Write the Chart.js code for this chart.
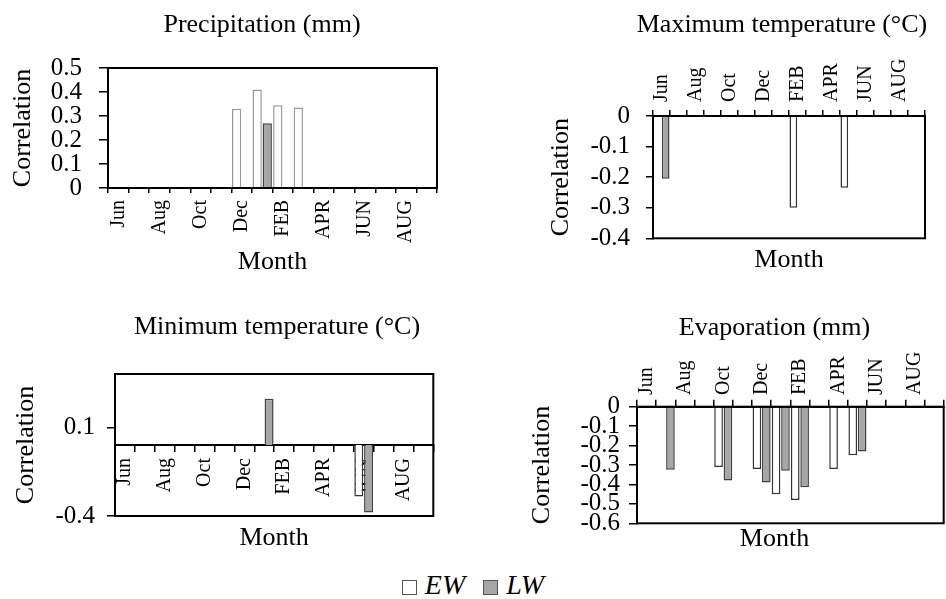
<!DOCTYPE html>
<html>
<head>
<meta charset="utf-8">
<title>Correlation by month</title>
<script src="https://cdn.jsdelivr.net/npm/chart.js@4.4.1/dist/chart.umd.min.js"></script>
<style>
  html, body { margin: 0; padding: 0; background: #fff; overflow: hidden; }
  #page { position: relative; width: 946px; height: 599px; overflow: hidden; }
  #page canvas { position: absolute; }
  #legend { position: absolute; left: 0; top: 570px; width: 946px; text-align: center;
            font: italic 28px 'Liberation Serif', serif; line-height: 30px; color: #000; }
  #legend .key { display: inline-block; width: 13px; height: 13px; border: 1px solid #555;
                 margin-right: 8px; vertical-align: -1px; }
  #legend .gap { display: inline-block; width: 18px; }
</style>
</head>
<body>
<div id="page">
  <canvas id="precip"></canvas>
  <canvas id="tmax"></canvas>
  <canvas id="tmin"></canvas>
  <canvas id="evap"></canvas>
  <div id="legend"></div>
</div>
<script>
// ---------------- data
var months = ['Jun', 'Jul', 'Aug', 'Sep', 'Oct', 'Nov', 'Dec', 'Jan',
              'FEB', 'MAR', 'APR', 'MAY', 'JUN', 'JUL', 'AUG', 'SEP'];
var monthTicks = ['Jun', '', 'Aug', '', 'Oct', '', 'Dec', '',
                  'FEB', '', 'APR', '', 'JUN', '', 'AUG', ''];
var seriesNames = ['EW', 'LW'];

var precipEW = [null, null, null, null, null, null, 0.33, 0.41, 0.345, 0.335, null, null, null, null, null, null];
var precipLW = [null, null, null, null, null, null, null, 0.27, null, null, null, null, null, null, null, null];
var precipTicks = [0, 0.1, 0.2, 0.3, 0.4, 0.5];
var precipRange = [0, 0.5];

var tmaxEW = [null, null, null, null, null, null, null, null, -0.30, null, null, -0.235, null, null, null, null];
var tmaxLW = [-0.205, null, null, null, null, null, null, null, null, null, null, null, null, null, null, null];
var tmaxTicks = [-0.4, -0.3, -0.2, -0.1, 0];
var tmaxRange = [-0.4, 0];

var tminEW = [null, null, null, null, null, null, null, null, null, null, null, null, -0.29, null, null, null];
var tminLW = [null, null, null, null, null, null, null, 0.26, null, null, null, null, -0.38, null, null, null];
var tminTicks = [-0.4, 0.1];
var tminRange = [-0.4, 0.4];

var evapEW = [null, null, null, null, -0.31, null, -0.32, -0.45, -0.48, null, -0.32, -0.25, null, null, null, null];
var evapLW = [null, -0.325, null, null, -0.38, null, -0.39, -0.33, -0.415, null, null, -0.23, null, null, null, null];
var evapTicks = [-0.6, -0.5, -0.4, -0.3, -0.2, -0.1, 0];
var evapRange = [-0.6, 0];

// ---------------- look
var FONT = "'Liberation Serif', 'Times New Roman', serif";
Chart.defaults.font.family = FONT;
Chart.defaults.color = '#000';

// frame round the plot area
var plotBox = {
    id: 'plotBox',
    afterDatasetsDraw: function (chart){
        var a = chart.chartArea, c = chart.ctx;
        c.save();
        c.strokeStyle = '#000';
        c.lineWidth = 2;
        c.strokeRect(a.left, a.top, a.right - a.left, a.bottom - a.top);
        c.restore();
    }
};

function makePanel(id, title, ew, lw, ewBorder, yTicks, yRange, g){
    var canvas = document.getElementById(id);
    canvas.width = g.w;
    canvas.height = g.h;
    canvas.style.left = g.left + 'px';
    canvas.style.top = g.top + 'px';

    var scales = {
        x: {
            position: g.xPos,
            z: g.xZ || 0,
            afterFit: function (s){ if (g.xHeight) { s.height = g.xHeight; } },
            ticks: {autoSkip: false, minRotation: 90, maxRotation: 90, padding: g.xTickPad,
                    labelOffset: g.xLabelOffset || 0,
                    font: {size: 20},
                    callback: function (v, i){ return monthTicks[i]; }},
            grid: {offset: true, drawOnChartArea: false, tickLength: g.xTickLen,
                   color: '#000', lineWidth: 1.5},
            border: {color: '#000', width: 2}
        },
        x2: {
            type: 'category',
            position: 'bottom',
            fullSize: !!g.monthFull,
            afterFit: function (s){ s.height = g.monthHeight; },
            ticks: {display: false},
            grid: {display: false},
            border: {display: false},
            title: {display: true, text: 'Month', font: {size: 26},
                    padding: {top: 0, bottom: g.monthPad}}
        },
        y: {
            min: yRange[0],
            max: yRange[1],
            afterBuildTicks: function (s){
                s.ticks = yTicks.map(function (v){ return {value: v}; });
            },
            afterFit: function (s){ s.width = g.yWidth; },
            ticks: {autoSkip: false, padding: g.yTickPad, font: {size: 25},
                    callback: function (v){ return String(v); }},
            grid: {drawOnChartArea: false, tickLength: g.yTickLen, color: '#000', lineWidth: 1.5},
            border: {color: '#000', width: 2},
            title: {display: true, text: 'Correlation', font: {size: 26},
                    padding: {top: g.yTitlePad, bottom: 0}}
        },
        // empty strip on the right so the panel title sits where it should
        side: {
            type: 'linear',
            position: 'right',
            afterFit: function (s){ s.width = g.rightWidth; },
            ticks: {display: false},
            grid: {display: false},
            border: {display: false}
        }
    };

    return new Chart(canvas, {
        type: 'bar',
        data: {
            labels: months,
            datasets: [
                {label: seriesNames[0], data: ew, backgroundColor: '#ffffff', borderColor: ewBorder,
                 borderWidth: 1.5, categoryPercentage: 0.98, barPercentage: 0.92},
                {label: seriesNames[1], data: lw, backgroundColor: '#a6a6a6', borderColor: '#404040',
                 borderWidth: 1.5, categoryPercentage: 0.98, barPercentage: 0.92}
            ]
        },
        options: {
            responsive: false,
            animation: false,
            devicePixelRatio: 1,
            layout: {padding: 0},
            plugins: {
                legend: {display: false},
                tooltip: {enabled: false},
                title: {display: true, text: title, font: {size: 26, weight: 'normal'},
                        padding: {top: g.tPadTop, bottom: g.tPadBottom}}
            },
            scales: scales
        },
        plugins: [plotBox]
    });
}

// ---------------- the four panels
makePanel('precip', 'Precipitation (mm)', precipEW, precipLW, '#9a9a9a', precipTicks, precipRange, {
    left: 0, top: 0, w: 524, h: 290,
    tPadTop: 9.4, tPadBottom: 27.4,
    xPos: 'bottom', xHeight: 62, xTickLen: 5, xTickPad: 7,
    monthHeight: 40, monthPad: 12.4,
    yWidth: 108, yTitlePad: 7.4, yTickLen: 9, yTickPad: 17,
    rightWidth: 87
});

makePanel('tmax', 'Maximum temperature (°C)', tmaxEW, tmaxLW, '#333333', tmaxTicks, tmaxRange, {
    left: 540, top: 0, w: 484, h: 290,
    tPadTop: 9.4, tPadBottom: 10,
    xPos: 'top', xHeight: 65.4, xTickLen: 6, xTickPad: 8, xLabelOffset: 24,
    monthHeight: 51.7, monthPad: 14.4,
    yWidth: 113, yTitlePad: 5.4, yTickLen: 7, yTickPad: 16,
    rightWidth: 99
});

makePanel('tmin', 'Minimum temperature (°C)', tminEW, tminLW, '#333333', tminTicks, tminRange, {
    left: 0, top: 300, w: 554, h: 260,
    tPadTop: 11.4, tPadBottom: 31.4,
    xPos: {y: 0}, xZ: 1, xTickLen: 6, xTickPad: 7,
    monthHeight: 44, monthPad: 6.1,
    yWidth: 115, yTitlePad: 10.2, yTickLen: 8, yTickPad: 12,
    rightWidth: 120.7
});

makePanel('evap', 'Evaporation (mm)', evapEW, evapLW, '#333333', evapTicks, evapRange, {
    left: 520, top: 300, w: 509, h: 260,
    tPadTop: 12.4, tPadBottom: 8,
    xPos: 'top', xHeight: 55.1, xTickLen: 7, xTickPad: 4.7, xLabelOffset: 24,
    monthHeight: 36.7, monthPad: 5.4, monthFull: true,
    yWidth: 117, yTitlePad: 6.6, yTickLen: 8, yTickPad: 9,
    rightWidth: 85.3
});

// ---------------- shared legend under the panels
var legend = document.getElementById('legend');
var keyFill = ['#ffffff', '#a6a6a6'];
seriesNames.forEach(function (name, i){
    if (i > 0) {
        var gap = document.createElement('span');
        gap.className = 'gap';
        legend.appendChild(gap);
    }
    var key = document.createElement('span');
    key.className = 'key';
    key.style.background = keyFill[i];
    legend.appendChild(key);
    var label = document.createElement('span');
    label.textContent = name;
    legend.appendChild(label);
});
</script>
</body>
</html>
